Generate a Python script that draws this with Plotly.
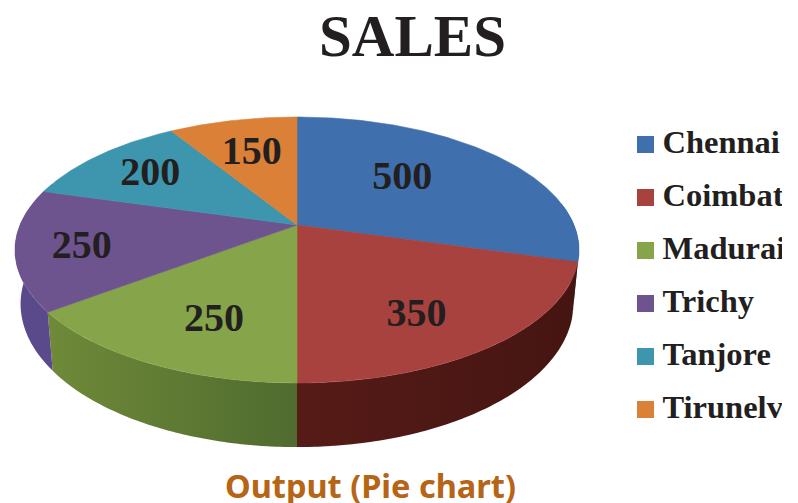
import math
import plotly.graph_objects as go

# ---- data ----
categories = ["Chennai", "Coimbatore", "Madurai", "Trichy", "Tanjore", "Tirunelveli"]
sales = [500, 350, 250, 250, 200, 150]
top_colors = ["#3F6FAC", "#A8423F", "#86A44A", "#6E548F", "#3D96AE", "#DA8137"]
side_left = ["#2B4C78", "#561B17", "#6F8A38", "#5A4A8C", "#2B6A7A", "#995A26"]
side_right = ["#2B4C78", "#451512", "#4F6B2F", "#5A4A8C", "#2B6A7A", "#995A26"]
title_text = "SALES"
caption_text = "Output (Pie chart)"

# ---- perspective model of the pie (image pixels) ----
CX, CY, R = 297.0, 225.0, 277.0
PERSP_C, PERSP_A = 0.188, -86.0
DEPTH, INSET = 52.0, 0.98
label_radius = [0.58, 0.72, 0.69, 0.77, 0.73, 0.67]
label_turn = [-8, 5, -4, -1, 1, 0]
LABEL_DY = 3.0


def project(deg, r=1.0):
    t = math.radians(deg)
    u, v = r * math.sin(t), r * math.cos(t)
    d = 1 + PERSP_C * v
    return CX + R * u / d, (PERSP_A * v + CY) / d


def rim_bottom(deg):
    x, y = project(deg)
    v = math.cos(math.radians(deg))
    return CX + (x - CX) * INSET, y + DEPTH / (1 + PERSP_C * v)


def arc(a, b):
    n = max(2, int(abs(b - a) * 2))
    return [a + (b - a) * i / n for i in range(n + 1)]


total = sum(sales)
edges = [0.0]
for s in sales:
    edges.append(edges[-1] + s / total * 360)

fig = go.Figure()

# sides (front half only), built as a ruled strip so the outline stays tangent
for i in range(len(sales)):
    a, b = max(edges[i], 80), min(edges[i + 1], 290)
    if a >= b:
        continue
    angs = arc(a, b)
    xs, ys = [], []
    for j in range(len(angs) - 1):
        d0, d1 = angs[j], angs[min(j + 2, len(angs) - 1)]
        quad = [project(d0), project(d1), rim_bottom(d1), rim_bottom(d0), project(d0)]
        xs += [p[0] for p in quad] + [None]
        ys += [p[1] for p in quad] + [None]
    fig.add_trace(go.Scatter(
        x=xs, y=ys, mode="lines", fill="toself",
        line=dict(width=0), hoverinfo="skip",
        fillgradient=dict(type="horizontal",
                          colorscale=[[0, side_left[i]], [1, side_right[i]]]),
    ))

# top faces
for i in range(len(sales)):
    pts = [(CX, CY)] + [project(d) for d in arc(edges[i], edges[i + 1])] + [(CX, CY)]
    fig.add_trace(go.Scatter(
        x=[p[0] for p in pts], y=[p[1] for p in pts], mode="lines", fill="toself",
        line=dict(width=0.6, color=top_colors[i]), fillcolor=top_colors[i],
        name=categories[i], hoverinfo="name",
    ))

# value labels
lab = [project((edges[i] + edges[i + 1]) / 2 + label_turn[i], label_radius[i])
       for i in range(len(sales))]
fig.add_trace(go.Scatter(
    x=[p[0] for p in lab], y=[p[1] + LABEL_DY for p in lab], mode="text",
    text=[str(s) for s in sales], textposition="middle center",
    textfont=dict(family="Liberation Serif", size=40, color="#231F20", weight="bold"),
    hoverinfo="skip",
))

# legend
LEG_Y0, LEG_DY = 144.5, 53.0
leg_y = [LEG_Y0 + LEG_DY * i for i in range(len(categories))]
fig.add_trace(go.Scatter(
    x=[645.5] * len(categories), y=leg_y, mode="markers",
    marker=dict(symbol="square", size=17, color=top_colors, line=dict(width=0)),
    hoverinfo="skip",
))
fig.add_trace(go.Scatter(
    x=[662.5] * len(categories), y=leg_y, mode="text",
    text=categories, textposition="middle right", cliponaxis=True,
    textfont=dict(family="Liberation Serif", size=32.5, color="#231F20", weight="bold"),
    hoverinfo="skip",
))

fig.update_layout(
    width=798, height=503, margin=dict(l=0, r=0, t=0, b=0),
    paper_bgcolor="white", plot_bgcolor="white", showlegend=False,
    xaxis=dict(range=[0, 782], domain=[0, 782 / 798], visible=False, fixedrange=True),
    yaxis=dict(range=[503, 0], domain=[0, 1], visible=False, fixedrange=True),
    annotations=[
        dict(x=412.5, y=36, xref="x", yref="y", text=f"<b>{title_text}</b>", showarrow=False,
             font=dict(family="Liberation Serif", size=59, color="#231F20")),
        dict(x=370, y=485, xref="x", yref="y", text=f"<b>{caption_text}</b>", showarrow=False,
             font=dict(family="Noto Sans", size=32.5, color="#B66415")),
    ],
)
fig.write_html("out.html", config=dict(displayModeBar=False),
               post_script="document.body.style.margin='0';document.body.style.overflow='hidden';")
